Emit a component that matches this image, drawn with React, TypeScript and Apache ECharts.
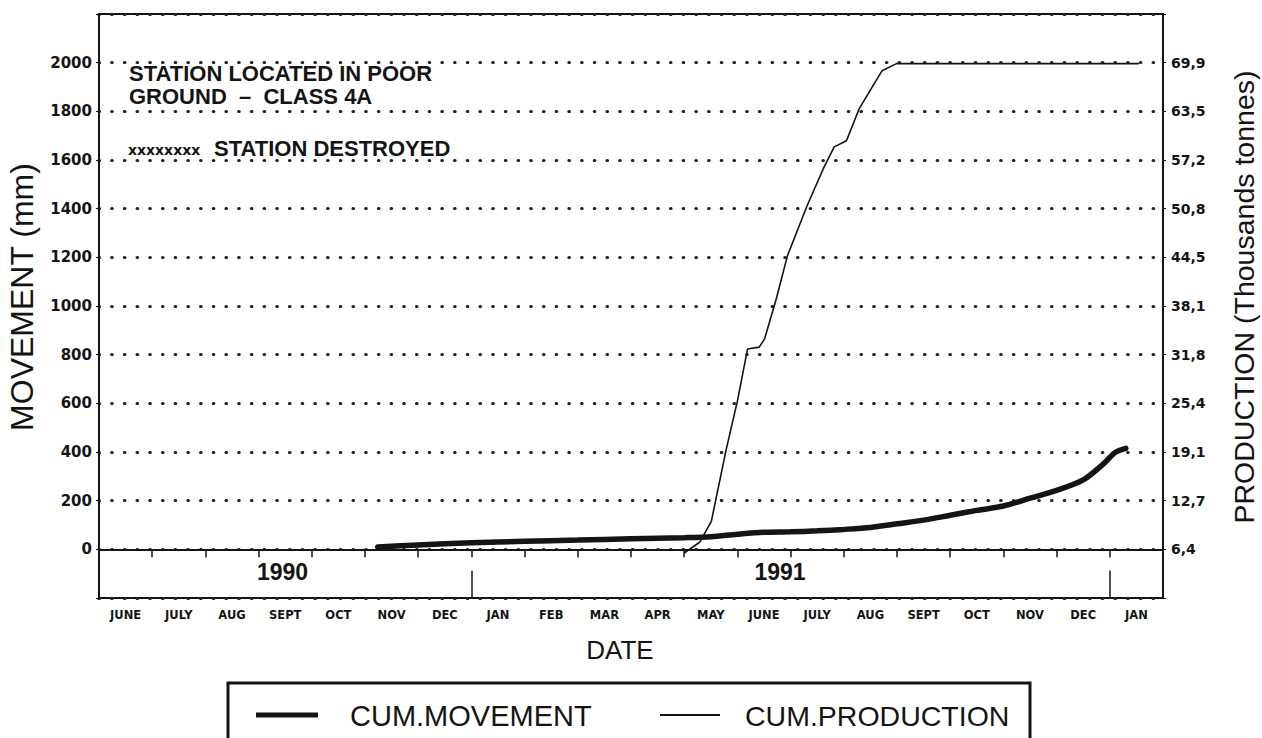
import React, { useEffect, useRef } from "react";
import * as echarts from "echarts";

// Month labels along the date axis (June 1990 .. Jan 1992)
const monthLabels = [
  "JUNE", "JULY", "AUG", "SEPT", "OCT", "NOV", "DEC",
  "JAN", "FEB", "MAR", "APR", "MAY", "JUNE", "JULY", "AUG", "SEPT", "OCT", "NOV", "DEC",
  "JAN",
];

// Right axis tick labels (production, thousand tonnes) for left ticks 0..2000
const productionTickLabels = ["6,4", "12,7", "19,1", "25,4", "31,8", "38,1", "44,5", "50,8", "57,2", "63,5", "69,9"];

// Year labels (month position counted from 1 June 1990)
const yearNames = ["1990", "1991"];
const yearPositions = [3.45, 12.8];
const yearDividers = [7, 19];

// Series names
const seriesNames = ["CUM.MOVEMENT", "CUM.PRODUCTION"];

// Cumulative movement (mm), x = months since 1 June 1990
const movementMonths = [5.24, 6.0, 7.0, 8.0, 9.0, 10.0, 11.0, 11.5, 12.0, 12.5, 13.0, 13.5, 14.0, 14.5, 15.0, 15.5, 16.0, 16.5, 17.0, 17.5, 18.0, 18.5, 18.9, 19.1, 19.3];
const movementValues = [10, 18, 27, 33, 38, 43, 48, 52, 62, 70, 72, 76, 82, 90, 105, 120, 140, 160, 178, 210, 242, 285, 355, 398, 415];

// Cumulative production (plotted on the movement scale)
const productionMonths = [11.0, 11.29, 11.51, 11.79, 12.0, 12.19, 12.41, 12.51, 12.73, 12.94, 13.31, 13.63, 13.82, 14.05, 14.29, 14.72, 14.99, 19.55];
const productionValues = [-15, 29, 115, 411, 609, 823, 831, 864, 1029, 1206, 1412, 1572, 1654, 1679, 1811, 1967, 1996, 1996];

const INK = "#141414";
const FONT = "Liberation Sans, Arial, sans-serif";
const HEAVY = "DejaVu Sans, sans-serif";

export default function App() {
  const ref = useRef<HTMLDivElement>(null);

  useEffect(() => {
    if (!ref.current) return;
    const chart = echarts.init(ref.current, undefined, { renderer: "svg" });

    const movementData = movementMonths.map((m, i) => [m, movementValues[i]]);
    const productionData = productionMonths.map((m, i) => [m, productionValues[i]]);

    const dotted = { type: [0.5, 12.2], width: 3.2, cap: "round", color: "#222" };

    const option: any = {
      animation: false,
      backgroundColor: "#ffffff",
      textStyle: { fontFamily: FONT, color: INK },
      grid: {
        left: 99,
        right: 99,
        top: 14,
        bottom: 140,
        show: true,
        borderColor: INK,
        borderWidth: 2,
        backgroundColor: "transparent",
      },
      xAxis: [
        {
          type: "value",
          min: 0,
          max: 20,
          show: false,
        },
        {
          type: "category",
          data: monthLabels,
          position: "bottom",
          boundaryGap: true,
          axisLine: { show: true, lineStyle: { color: INK, width: 2 } },
          axisTick: { show: true, length: 8, interval: 0, lineStyle: { color: INK, width: 1.5 } },
          axisLabel: { interval: 0, margin: 11, fontSize: 11.5, fontWeight: 900, color: INK, fontFamily: HEAVY },
          splitLine: { show: false },
        },
      ],
      yAxis: [
        {
          type: "value",
          min: -200,
          max: 2200,
          interval: 200,
          position: "left",
          axisLine: { show: true, lineStyle: { color: INK, width: 2 } },
          axisTick: { show: true, length: 3, lineStyle: { color: INK } },
          axisLabel: {
            margin: 7,
            fontSize: 15,
            fontWeight: 900,
            color: INK,
            fontFamily: HEAVY,
            formatter: (v: number) => (v < 0 || v > 2000 ? "" : String(v)),
          },
          splitLine: { show: true, lineStyle: dotted },
        },
        {
          type: "value",
          min: -200,
          max: 2200,
          interval: 200,
          position: "right",
          axisLine: { show: true, lineStyle: { color: INK, width: 2 } },
          axisTick: { show: true, length: 3, lineStyle: { color: INK } },
          axisLabel: {
            margin: 8,
            fontSize: 14,
            fontWeight: 900,
            color: INK,
            fontFamily: HEAVY,
            formatter: (v: number) => {
              const i = Math.round(v / 200);
              return v < 0 || v > 2000 ? "" : productionTickLabels[i] ?? "";
            },
          },
          splitLine: { show: false },
        },
      ],
      series: [
        {
          name: seriesNames[0],
          type: "line",
          xAxisIndex: 0,
          yAxisIndex: 0,
          data: movementData,
          symbol: "none",
          smooth: 0.3,
          lineStyle: { color: INK, width: 5.5, cap: "round" },
          itemStyle: { color: INK },
          z: 5,
          markLine: {
            silent: true,
            symbol: "none",
            label: { show: false },
            lineStyle: { color: INK, width: 1.5, type: "solid" },
            data: yearDividers.map((m) => [{ coord: [m, -200] }, { coord: [m, -88] }]),
          },
          markPoint: {
            silent: true,
            symbol: "circle",
            symbolSize: 1,
            itemStyle: { color: "rgba(0,0,0,0)" },
            label: {
              show: true,
              position: "inside",
              formatter: (p: any) => p.name,
              fontSize: 23,
              fontWeight: "bold",
              color: INK,
              fontFamily: FONT,
            },
            data: yearNames.map((n, i) => ({ name: n, coord: [yearPositions[i], -92] })),
          },
        },
        {
          name: seriesNames[1],
          type: "line",
          xAxisIndex: 0,
          yAxisIndex: 0,
          data: productionData,
          symbol: "none",
          lineStyle: { color: INK, width: 1.6 },
          itemStyle: { color: INK },
          z: 4,
        },
      ],
      graphic: [
        {
          type: "text",
          left: 129,
          top: 62,
          style: { text: "STATION LOCATED IN POOR", fontSize: 22, fontWeight: "bold", fill: INK, fontFamily: FONT },
        },
        {
          type: "text",
          left: 129,
          top: 85,
          style: { text: "GROUND  –  CLASS 4A", fontSize: 22, fontWeight: "bold", fill: INK, fontFamily: FONT },
        },
        {
          type: "text",
          left: 128,
          top: 143,
          style: { text: "xxxxxxxx", fontSize: 14, fontWeight: 900, fill: INK, fontFamily: HEAVY },
        },
        {
          type: "text",
          left: 214,
          top: 137,
          style: { text: "STATION DESTROYED", fontSize: 22, fontWeight: "bold", fill: INK, fontFamily: FONT },
        },
        {
          type: "text",
          x: 620,
          y: 650,
          style: { text: "DATE", fontSize: 26, fill: INK, fontFamily: FONT, align: "center", verticalAlign: "middle" },
        },
        {
          type: "text",
          x: 22,
          y: 297,
          rotation: Math.PI / 2,
          style: { text: "MOVEMENT (mm)", fontSize: 32, fill: INK, fontFamily: FONT, align: "center", verticalAlign: "middle" },
        },
        {
          type: "text",
          x: 1244,
          y: 297,
          rotation: Math.PI / 2,
          style: { text: "PRODUCTION (Thousands tonnes)", fontSize: 28.5, fill: INK, fontFamily: FONT, align: "center", verticalAlign: "middle" },
        },
        // legend box
        {
          type: "rect",
          shape: { x: 228, y: 683, width: 802, height: 70 },
          style: { fill: "none", stroke: INK, lineWidth: 3 },
          z: -1,
        },
        {
          type: "line",
          shape: { x1: 256, y1: 715, x2: 318, y2: 715 },
          style: { stroke: INK, lineWidth: 5 },
        },
        {
          type: "text",
          x: 350,
          y: 716,
          style: { text: seriesNames[0], fontSize: 29, fill: INK, fontFamily: FONT, verticalAlign: "middle" },
        },
        {
          type: "line",
          shape: { x1: 660, y1: 715, x2: 720, y2: 715 },
          style: { stroke: INK, lineWidth: 2 },
        },
        {
          type: "text",
          x: 745,
          y: 716,
          style: { text: seriesNames[1], fontSize: 28.5, fill: INK, fontFamily: FONT, verticalAlign: "middle" },
        },
      ],
    };

    chart.setOption(option);
    return () => chart.dispose();
  }, []);

  return (
    <div
      ref={ref}
      style={{ position: "fixed", left: 0, top: 0, width: 1262, height: 738, background: "#fff" }}
    />
  );
}
